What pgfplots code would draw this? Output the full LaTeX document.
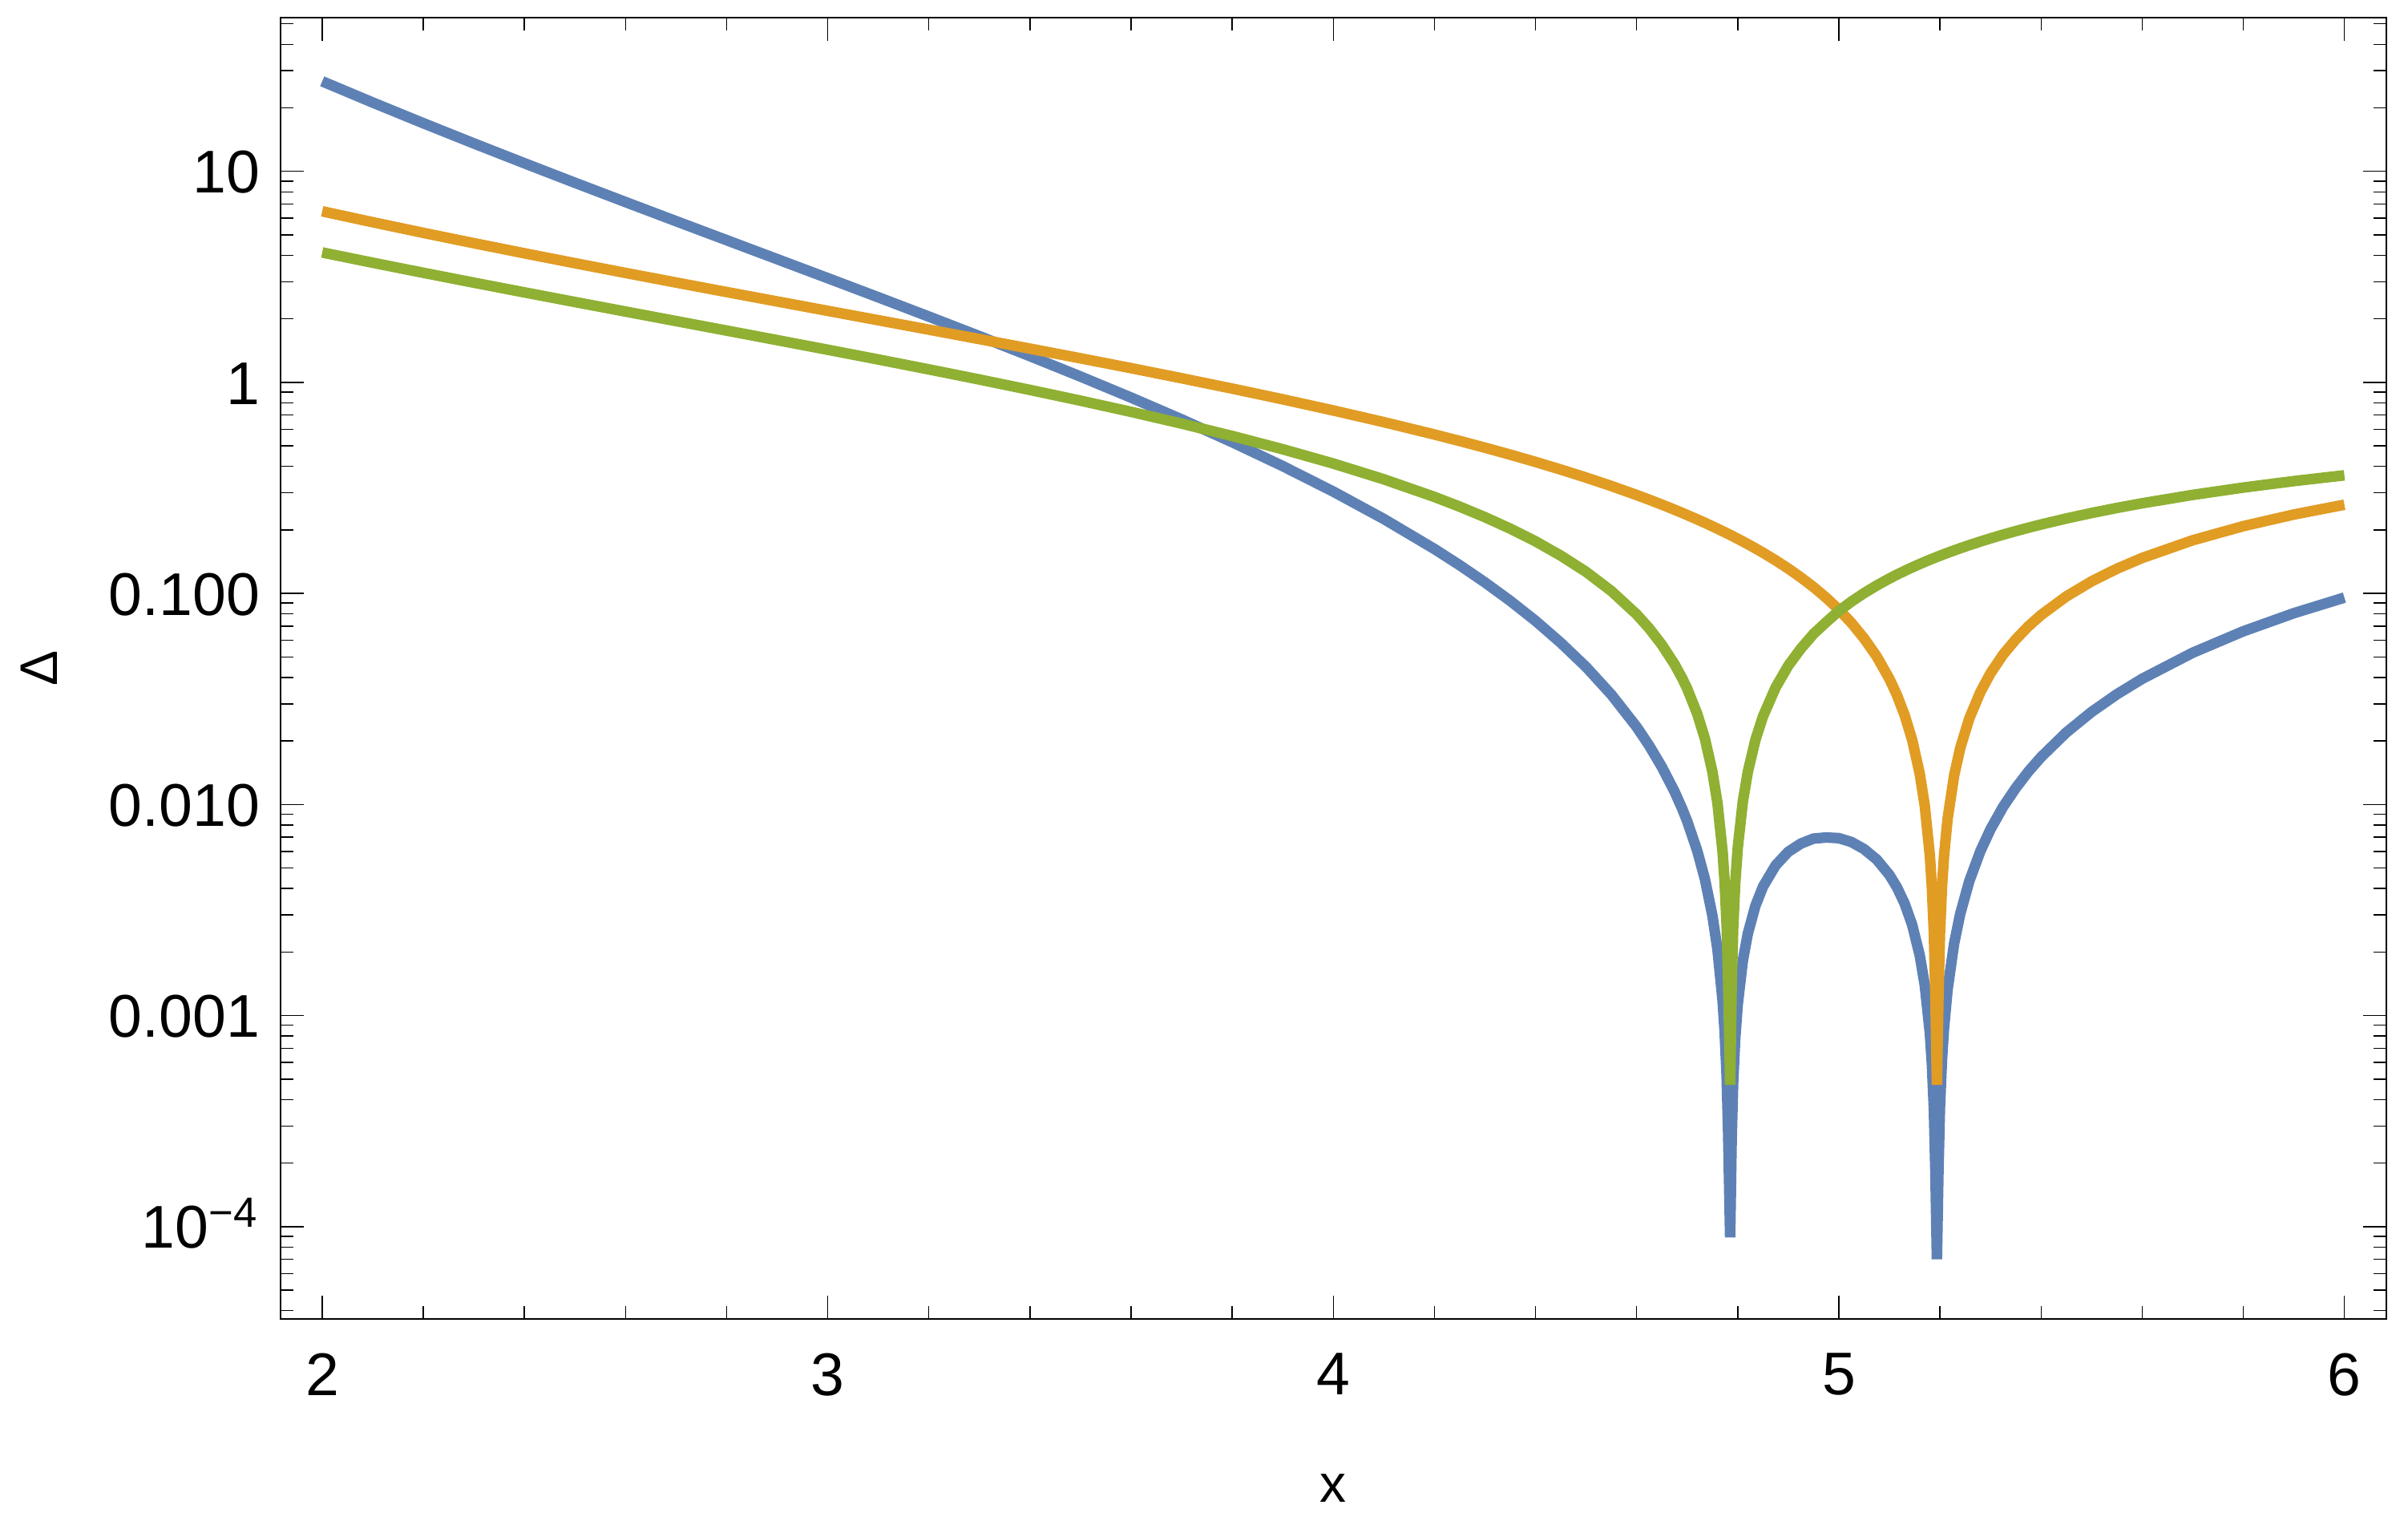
\documentclass[border=0pt]{standalone}
\usepackage{fontspec}
\setmainfont{Liberation Sans}
\usepackage{pgfplots}
\pgfplotsset{compat=1.18}
\usepackage{pgfplotstable}

\definecolor{mblue}{rgb}{0.368417,0.506779,0.709798}
\definecolor{morange}{rgb}{0.880722,0.611041,0.142051}
\definecolor{mgreen}{rgb}{0.560181,0.691569,0.194885}

% x, green, orange, blue (absolute values)
\pgfplotstableread{
x      g          o          b
2.0    4.1295     6.4704     26.72
2.1    3.6911     5.7421     21.195
2.2    3.3075     5.1139     16.914
2.3    2.9698     4.5683     13.567
2.4    2.6708     4.0915     10.928
2.5    2.4047     3.6726     8.8315
2.6    2.1669     3.3026     7.1563
2.7    1.9533     2.9741     5.8093
2.8    1.7608     2.6813     4.7213
2.9    1.5866     2.4192     3.8384
3.0    1.4285     2.1837     3.1194
3.1    1.2845     1.9714     2.5322
3.2    1.1529     1.7792     2.0512
3.3    1.0323     1.6048     1.6566
3.4    0.92154    1.4460     1.3326
3.5    0.81954    1.3011     1.0663
3.6    0.72539    1.1685     0.84762
3.7    0.63829    1.0468     0.66816
3.8    0.55753    0.93487    0.52122
3.9    0.48250    0.83173    0.40131
4.0    0.41269    0.73648    0.30394
4.1    0.34760    0.64835    0.22537
4.2    0.28681    0.56663    0.16252
4.25   0.25790    0.52796    0.13616
4.3    0.22992    0.49071    0.11282
4.35   0.20285    0.45477    0.092250
4.4    0.17663    0.42008    0.074199
4.45   0.15108    0.38644    0.058383
4.5    0.12665    0.35426    0.044867
4.55   0.10271    0.32298    0.033173
4.6    0.079655   0.29280    0.023323
4.625  0.068293   0.27810    0.018992
4.65   0.057085   0.26363    0.015049
4.675  0.046197   0.24939    0.011521
4.69   0.039696   0.24096    0.0095652
4.7    0.035424   0.23538    0.0083381
4.72   0.026857   0.22432    0.0060246
4.735  0.020537   0.21617    0.0044395
4.75   0.014261   0.20804    0.0029669
4.76   0.010110   0.20270    0.0020493
4.77   0.0059828  0.19727    0.0011802
4.774  0.0043386  0.19526    0.00084716
4.778  0.0026983  0.19305    0.00052091
4.781  0.0014704  0.19156    0.00028167
4.785  0.00047    0.1896     0.000089
4.788  0.0013859  0.18788    0.00026038
4.791  0.0026066  0.18627    0.00048553
4.795  0.0042307  0.18422    0.00077938
4.8    0.006228   0.18159    0.0011309
4.81   0.010287   0.17643    0.0018149
4.82   0.014295   0.17126    0.0024482
4.835  0.020258   0.16361    0.0033144
4.85   0.026175   0.15600    0.0040833
4.875  0.035888   0.14351    0.0051503
4.9    0.045520   0.13119    0.0059718
4.925  0.054849   0.11909    0.0065320
4.95   0.064349   0.10718    0.0068969
4.975  0.073145   0.095427   0.0069800
5.0    0.082632   0.083869   0.0069303
5.025  0.091599   0.072495   0.0066405
5.05   0.10043    0.061201   0.0061464
5.075  0.10914    0.050269   0.0054864
5.1    0.11773    0.039402   0.0046388
5.115  0.12283    0.032968   0.0040494
5.13   0.12788    0.026578   0.0033988
5.145  0.13290    0.020264   0.0026931
5.16   0.13787    0.013996   0.0019296
5.17   0.14117    0.0098500  0.0013905
5.18   0.14446    0.0057288  0.00082758
5.184  0.14575    0.0040872  0.00059571
5.188  0.14706    0.0024494  0.00036021
5.191  0.14803    0.0012236  0.00018113
5.194  0.1490     0.00047    0.000070
5.197  0.14997    0.0012214  0.00018317
5.2    0.15094    0.0024366  0.00036778
5.204  0.15223    0.0040628  0.00061848
5.208  0.15352    0.0056812  0.00087218
5.215  0.15577    0.0085039  0.0013247
5.228  0.15993    0.013714   0.0021933
5.24   0.16373    0.018485   0.0030266
5.258  0.16939    0.025582   0.0043333
5.28   0.17625    0.034126   0.0060147
5.3    0.18241    0.041870   0.0076375
5.325  0.19003    0.05137    0.0097618
5.35   0.19753    0.06061    0.011973
5.375  0.20494    0.069955   0.014337
5.4    0.21226    0.079060   0.016781
5.45   0.22662    0.096854   0.021949
5.5    0.24060    0.11417    0.027469
5.55   0.25425    0.13097    0.033299
5.6    0.26754    0.14732    0.039414
5.7    0.29316    0.17873    0.052397
5.8    0.31757    0.20845    0.066198
5.9    0.34081    0.23663    0.080647
6.0    0.36298    0.26337    0.095598
}\curves

\begin{document}
\begin{tikzpicture}
\useasboundingbox (-1.862cm,-1.312cm) rectangle (14.138cm,8.760cm);
\begin{axis}[
    at={(0,0)}, anchor=south west,
    width=13.994cm, height=8.644cm, scale only axis,
    ymode=log,
    xmin=1.917, xmax=6.083,
    ymin=3.66e-5, ymax=53.6,
    xtick={2,3,4,5,6},
    minor x tick num=4,
    ytick={1e-4,0.001,0.01,0.1,1,10},
    yticklabels={10\textsuperscript{−4},0.001,0.010,0.100,1,10},
    minor ytick={4e-5,5e-5,6e-5,7e-5,8e-5,9e-5,
                 2e-4,3e-4,4e-4,5e-4,6e-4,7e-4,8e-4,9e-4,
                 0.002,0.003,0.004,0.005,0.006,0.007,0.008,0.009,
                 0.02,0.03,0.04,0.05,0.06,0.07,0.08,0.09,
                 0.2,0.3,0.4,0.5,0.6,0.7,0.8,0.9,
                 2,3,4,5,6,7,8,9,20,30,40,50},
    tick pos=both,
    xticklabel pos=lower, yticklabel pos=left,
    tick align=inside,
    major tick length=0.155cm,
    minor tick length=0.085cm,
    tick style={black, line width=0.22pt},
    axis line style={black, line width=0.3pt},
    /pgf/number format/assume math mode=true,
    tick label style={font=\fontsize{11.4}{13.7}\selectfont},
    xticklabel style={inner sep=0pt, anchor=north, yshift=-0.2205cm},
    yticklabel style={inner sep=0pt, anchor=base east, xshift=-0.13cm, yshift=-4.1pt},
    label style={font=\fontsize{11.4}{13.7}\selectfont},
    xlabel={x},
    ylabel={Δ},
    every axis x label/.style={at={(axis description cs:0.5,-0.14105)}, anchor=base},
    every axis y label/.style={at={(axis description cs:-0.10604,0.5)}, anchor=base, rotate=90},
]
\addplot[mblue, line width=2pt, line join=bevel] table[x=x, y=b] {\curves};
\addplot[morange, line width=2pt, line join=bevel] table[x=x, y=o] {\curves};
\addplot[mgreen, line width=2pt, line join=bevel] table[x=x, y=g] {\curves};
\end{axis}
\end{tikzpicture}
\end{document}
